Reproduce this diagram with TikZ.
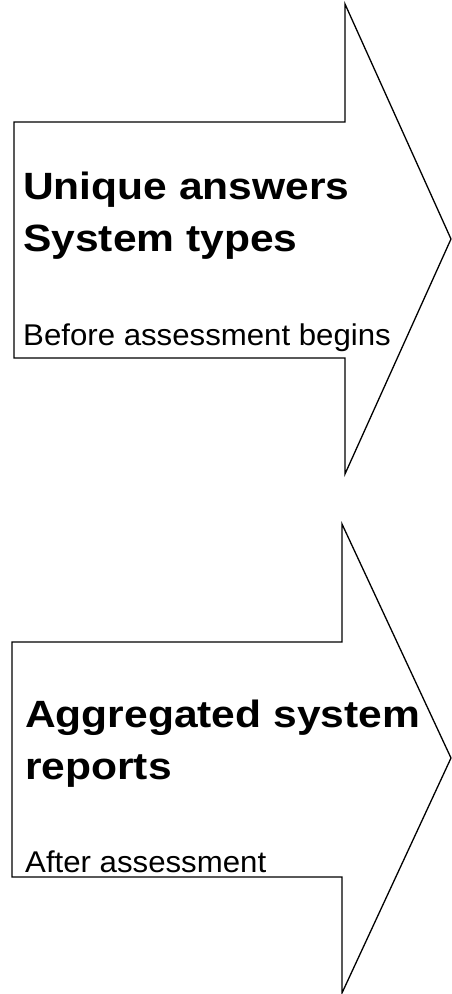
\documentclass[tikz,border=0pt]{standalone}
\usepackage{fontspec}
\newfontfamily\headfont[FakeStretch=1.12]{Liberation Sans}
\newfontfamily\notefont[FakeStretch=1.04]{Liberation Sans}

\tikzset{
	arrowshape/.style={draw=black, line width=1.3pt, line join=miter, fill=white},
	headtext/.style={anchor=base west, inner sep=0pt, font=\headfont\bfseries\fontsize{38}{46}\selectfont},
	notetext/.style={anchor=base west, inner sep=0pt, font=\notefont\fontsize{30}{36}\selectfont}
}

\begin{document}
\begin{tikzpicture}[x=1pt, y=-1pt]
	\useasboundingbox (0,0) rectangle (452,994);

	% first arrow
	\draw [arrowshape] (14,122) -- (345,122) -- (345,4) -- (451,239) -- (345,474) -- (345,358) -- (14,358) -- cycle;
	\node at (23,199.5) [headtext] (before1) {Unique answers};
	\node at (23,251.5) [headtext] (before2) {System types};
	\node at (23,345) [notetext] (beforenote) {Before assessment begins};

	% second arrow
	\draw [arrowshape] (12,642) -- (342,642) -- (342,524) -- (451,758) -- (342,993) -- (342,877) -- (12,877) -- cycle;
	\node at (25,727.5) [headtext] (after1) {Aggregated system};
	\node at (25,779.5) [headtext] (after2) {reports};
	\node at (25,872.5) [notetext] (afternote) {After assessment};
\end{tikzpicture}
\end{document}
